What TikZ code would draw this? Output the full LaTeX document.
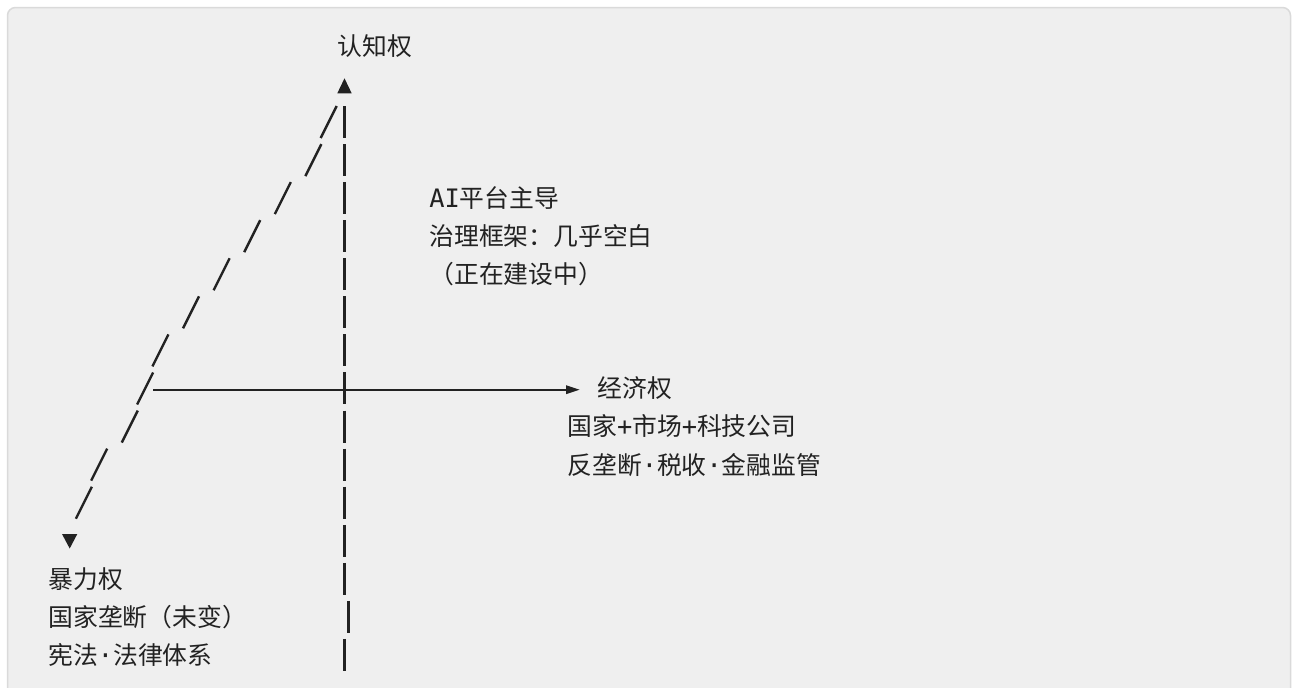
\documentclass[tikz,border=0pt]{standalone}
\usepackage{fontspec}
\newfontfamily\cjk{Noto Sans CJK SC}
\newfontfamily\monofam{DejaVu Sans Mono}
\newcommand\monoch[1]{{\monofam\fontsize{12.7pt}{14pt}\selectfont #1}}
\definecolor{bg}{HTML}{EFEFEF}
\definecolor{frame}{HTML}{DADADA}
\definecolor{ink}{HTML}{222222}
\begin{document}
\begin{tikzpicture}[x=0.5pt,y=-0.5pt,
  txt/.style={anchor=base west, inner sep=0pt, font=\cjk\fontsize{12.4pt}{14pt}\selectfont, text=ink},
  seg/.style={ink, line width=1.2pt},
  tip/.style={fill=ink}]
\useasboundingbox (0,0) rectangle (1292,687);
\clip (0,0) rectangle (1292,687);
\draw[frame, fill=bg, line width=0.75pt, rounded corners=4pt] (7.5,7.5) rectangle (1290.5,720);
% vertical axis (cognitive power), dashed by text rows
\foreach \k in {2,...,16} {
  \pgfmathsetmacro\yt{106+38.07*(\k-2)}
  \pgfmathsetmacro\xx{\k==15 ? 348.3 : 344.3}
  \draw[seg] (\xx,\yt) -- ++(0,32);
}
% diagonal axis (violence power)
\foreach \n [count=\i from 0] in {0,1,3,5,7,9,11,12,13,15,16} {
  \pgfmathsetmacro\yt{106+38.07*\i}
  \pgfmathsetmacro\xt{336.7-15.3*\n}
  \draw[seg] (\xt,\yt) -- ++(-16,32);
}
% horizontal axis (economic power)
\coordinate (hstart) at (153.3,389.7);
\coordinate (hend) at (567,389.7);
\draw[seg] (hstart) -- (hend);
\fill[tip] (566,385.2) -- (579.5,389.7) -- (566,394.2) -- cycle;
% arrow heads
\fill[tip] (337.3,93.3) -- (344.5,78.3) -- (351.7,93.3) -- cycle;
\fill[tip] (62,534) -- (77.3,534) -- (69.7,548.5) -- cycle;
% labels
\node[txt] (cog) at (337,55.4) {认知权};
\node[txt] (ai1) at (429,207.6) {\monoch{AI}平台主导};
\node[txt] (ai2) at (429,245.7) {治理框架：几乎空白};
\node[txt] (ai3) at (429,283.7) {（正在建设中）};
\node[txt] (eco) at (597,397.9) {经济权};
\node[txt] (eco1) at (567,435.9) {国家\monoch{+}市场\monoch{+}科技公司};
\node[txt] (eco2) at (567,474) {反垄断\monoch{·}税收\monoch{·}金融监管};
\node[txt] (vio) at (48,588.1) {暴力权};
\node[txt] (vio1) at (48,626.2) {国家垄断（未变）};
\node[txt] (vio2) at (48,664.2) {宪法\monoch{·}法律体系};
\end{tikzpicture}
\end{document}
